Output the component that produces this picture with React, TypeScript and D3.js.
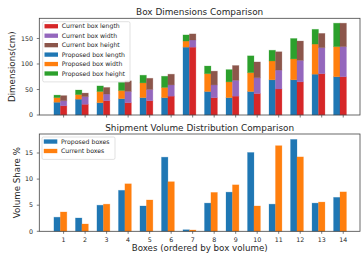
import React from "react";
import * as d3 from "d3";

const W = 361;
const H = 256;

const boxes = [1, 2, 3, 4, 5, 6, 7, 8, 9, 10, 11, 12, 13, 14];

// Box dimensions (cm)
const proposedLength = [25, 31, 24, 32, 34, 34, 133, 46, 34, 46, 69, 69, 80, 75];
const proposedWidth = [9, 9, 22, 16, 29, 20, 12, 35, 31, 37, 37, 41, 59, 59];
const proposedHeight = [5, 9, 11, 16, 15, 22, 12, 15, 24, 33, 21, 40, 29, 46];
const currentLength = [18, 21, 28, 24, 28, 37, 133, 34, 37, 42, 51, 65, 81, 75];
const currentWidth = [10, 15, 13, 22, 22, 22, 14, 25, 31, 31, 37, 42, 51, 59];
const currentHeight = [10, 7, 13, 21, 22, 21, 12, 27, 29, 31, 36, 38, 28, 46];

// Volume share (%)
const proposedShare = [2.7, 2.55, 5.0, 7.85, 4.85, 14.2, 0.3, 5.4, 7.5, 15.1, 5.2, 17.6, 5.4, 6.5];
const currentShare = [3.7, 1.4, 5.2, 9.1, 6.0, 9.5, 0.25, 7.45, 8.9, 4.85, 16.4, 14.25, 5.6, 7.55];

const topTicks = [0, 50, 100, 150];
const bottomTicks = [0, 5, 10, 15];

const C = {
  blue: "#1f77b4",
  orange: "#ff7f0e",
  green: "#2ca02c",
  red: "#d62728",
  purple: "#9467bd",
  brown: "#8c564b",
};

const FONT = "DejaVu Sans";
const TXT = "#262626";
const SPINE = "#444";

const left = 39.3;
const right = 360;
const barW = 0.3;

const x = d3.scaleLinear().domain([-0.13, 14.78]).range([left, right]);

const top1 = 18.3, bot1 = 115;
const top2 = 134, bot2 = 231.3;
const y1 = d3.scaleLinear().domain([0, 189.6]).range([bot1, top1]);
const y2 = d3.scaleLinear().domain([0, 18.64]).range([bot2, top2]);

type Seg = { color: string; vals: number[] };

const proposedStack: Seg[] = [
  { color: C.blue, vals: proposedLength },
  { color: C.orange, vals: proposedWidth },
  { color: C.green, vals: proposedHeight },
];
const currentStack: Seg[] = [
  { color: C.red, vals: currentLength },
  { color: C.purple, vals: currentWidth },
  { color: C.brown, vals: currentHeight },
];

const topLegend = [
  { label: "Current box length", color: C.red },
  { label: "Current box width", color: C.purple },
  { label: "Current box height", color: C.brown },
  { label: "Proposed box length", color: C.blue },
  { label: "Proposed box width", color: C.orange },
  { label: "Proposed box height", color: C.green },
];
const bottomLegend = [
  { label: "Proposed boxes", color: C.blue },
  { label: "Current boxes", color: C.orange },
];

const Stack = ({ segs, offset }: { segs: Seg[]; offset: number }) => (
  <g>
    {boxes.map((b, i) => {
      let acc = 0;
      return segs.map((s, k) => {
        const y0 = acc;
        acc += s.vals[i];
        return (
          <rect
            key={`${i}-${k}`}
            x={x(b + offset - barW / 2)}
            width={x(barW) - x(0)}
            y={y1(acc)}
            height={y1(y0) - y1(acc)}
            fill={s.color}
            stroke={s.color}
            strokeOpacity={0.3}
            strokeWidth={0.8}
          />
        );
      });
    })}
  </g>
);

const Legend = ({ items, x0, y0, w }: { items: { label: string; color: string }[]; x0: number; y0: number; w: number }) => {
  const step = 9.45;
  const h = items.length * step + 3.5;
  return (
    <g>
      <rect x={x0} y={y0} width={w} height={h} rx={1.5} fill="white" fillOpacity={0.8} stroke="#cccccc" strokeWidth={0.6} />
      {items.map((it, i) => {
        const cy = y0 + 4.5 + step * i;
        return (
          <g key={it.label}>
            <rect x={x0 + 1.8} y={cy - 2.1} width={13.5} height={4.3} fill={it.color} />
            <text x={x0 + 19} y={cy + 2.2} fontSize={6.2} fill={TXT} fontFamily={FONT}>
              {it.label}
            </text>
          </g>
        );
      })}
    </g>
  );
};

const Frame = ({ t, b }: { t: number; b: number }) => (
  <rect x={left} y={t} width={right - left} height={b - t} fill="none" stroke={SPINE} strokeWidth={0.8} />
);

export default function App() {
  return (
    <svg width={W} height={H} style={{ position: "absolute", left: 0, top: 0, background: "white" }}>
      {/* ---- top panel ---- */}
      <text x={(left + right) / 2} y={15} textAnchor="middle" fontSize={8.9} fill={TXT} fontFamily={FONT}>
        Box Dimensions Comparison
      </text>
      <Stack segs={proposedStack} offset={-barW} />
      <Stack segs={currentStack} offset={0} />
      {topTicks.map((t) => (
        <g key={t}>
          <line x1={left - 2.5} x2={left} y1={y1(t)} y2={y1(t)} stroke={SPINE} strokeWidth={0.7} />
          <text x={33} y={y1(t) + 2.2} textAnchor="end" fontSize={6.3} fill={TXT} fontFamily={FONT}>
            {t}
          </text>
        </g>
      ))}
      {boxes.map((b) => (
        <line key={b} x1={x(b)} x2={x(b)} y1={bot1} y2={bot1 + 2.5} stroke={SPINE} strokeWidth={0.7} />
      ))}
      <text
        transform={`translate(15,${(top1 + bot1) / 2}) rotate(-90)`}
        textAnchor="middle"
        fontSize={8.7}
        fill={TXT}
        fontFamily={FONT}
      >
        Dimensions(cm)
      </text>
      <Frame t={top1} b={bot1} />
      <Legend items={topLegend} x0={42.7} y0={21.7} w={87.3} />

      {/* ---- bottom panel ---- */}
      <text x={(left + right) / 2} y={130.8} textAnchor="middle" fontSize={8.9} fill={TXT} fontFamily={FONT}>
        Shipment Volume Distribution Comparison
      </text>
      {boxes.map((b, i) => (
        <g key={b}>
          <rect
            x={x(b - barW - barW / 2)}
            width={x(barW) - x(0)}
            y={y2(proposedShare[i])}
            height={y2(0) - y2(proposedShare[i])}
            fill={C.blue}
            stroke={C.blue}
            strokeOpacity={0.3}
            strokeWidth={0.8}
          />
          <rect
            x={x(b - barW / 2)}
            width={x(barW) - x(0)}
            y={y2(currentShare[i])}
            height={y2(0) - y2(currentShare[i])}
            fill={C.orange}
            stroke={C.orange}
            strokeOpacity={0.3}
            strokeWidth={0.8}
          />
        </g>
      ))}
      {bottomTicks.map((t) => (
        <g key={t}>
          <line x1={left - 2.5} x2={left} y1={y2(t)} y2={y2(t)} stroke={SPINE} strokeWidth={0.7} />
          <text x={33} y={y2(t) + 2.2} textAnchor="end" fontSize={6.3} fill={TXT} fontFamily={FONT}>
            {t}
          </text>
        </g>
      ))}
      {boxes.map((b) => (
        <g key={b}>
          <line x1={x(b)} x2={x(b)} y1={bot2} y2={bot2 + 2.5} stroke={SPINE} strokeWidth={0.7} />
          <text x={x(b)} y={241.5} textAnchor="middle" fontSize={6.3} fill={TXT} fontFamily={FONT}>
            {b}
          </text>
        </g>
      ))}
      <text
        transform={`translate(20,${(top2 + bot2) / 2}) rotate(-90)`}
        textAnchor="middle"
        fontSize={8.7}
        fill={TXT}
        fontFamily={FONT}
      >
        Volume Share %
      </text>
      <text x={(left + right) / 2} y={251.4} textAnchor="middle" fontSize={8.7} fill={TXT} fontFamily={FONT}>
        Boxes (ordered by box volume)
      </text>
      <Frame t={top2} b={bot2} />
      <Legend items={bottomLegend} x0={42} y0={137} w={73} />
    </svg>
  );
}
